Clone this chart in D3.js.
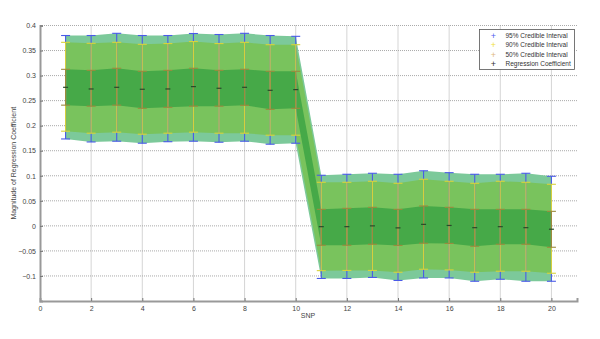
<!DOCTYPE html>
<meta charset="utf-8">
<style>
body { margin: 0; background: #fff; }
text { font-family: "Liberation Sans", Arial, sans-serif; font-size: 7px; }
</style>
<svg width="600" height="339"></svg>
<script src="https://d3js.org/d3.v7.min.js"></script>
<script>

var snp = d3.range(1, 21);

var coef = [0.2766, 0.2733, 0.2766, 0.2727, 0.2733, 0.278, 0.2747, 0.2766, 0.2706, 0.272,
  -0.0016, -0.0016, 0.0, -0.004, 0.003, 0.0008, -0.0036, -0.0016, -0.0036, -0.0067];
var lo50 = [0.241, 0.239, 0.241, 0.2347, 0.2367, 0.239, 0.239, 0.2407, 0.2327, 0.2347,
  -0.0387, -0.0387, -0.0367, -0.039, -0.0347, -0.035, -0.0407, -0.0367, -0.0367, -0.0427];
var hi50 = [0.3125, 0.3105, 0.3146, 0.3086, 0.3105, 0.3146, 0.3105, 0.3126, 0.3086, 0.3086,
  0.033, 0.035, 0.037, 0.033, 0.0397, 0.037, 0.033, 0.033, 0.033, 0.029];
var lo90 = [0.189, 0.185, 0.187, 0.183, 0.185, 0.187, 0.185, 0.185, 0.181, 0.181,
  -0.0894, -0.089, -0.089, -0.0926, -0.0866, -0.088, -0.0926, -0.0906, -0.0906, -0.0946];
var hi90 = [0.3664, 0.3644, 0.3664, 0.3624, 0.364, 0.368, 0.364, 0.3664, 0.3617, 0.3617,
  0.087, 0.087, 0.089, 0.085, 0.093, 0.089, 0.085, 0.089, 0.087, 0.083];
var lo95 = [0.1735, 0.1675, 0.169, 0.165, 0.168, 0.169, 0.167, 0.169, 0.163, 0.165,
  -0.105, -0.105, -0.103, -0.109, -0.104, -0.104, -0.1106, -0.1066, -0.1106, -0.1106];
var hi95 = [0.380, 0.380, 0.3844, 0.380, 0.380, 0.384, 0.382, 0.3844, 0.380, 0.3784,
  0.101, 0.103, 0.105, 0.103, 0.110, 0.1062, 0.103, 0.103, 0.105, 0.099];

var xTicks = d3.range(0, 21, 2);
var yTicks = [-0.1, -0.05, 0, 0.05, 0.1, 0.15, 0.2, 0.25, 0.3, 0.35, 0.4];
var legendLabels = ["95% Credible Interval", "90% Credible Interval", "50% Credible Interval", "Regression Coefficient"];
var legendColors = ["#5060f0", "#f0e040", "#e0b880", "#333"];

var svg = d3.select("svg");
var pLeft = 40, pRight = 577, pTop = 25.5, pBottom = 301;

var x = d3.scaleLinear().domain([0, 21]).range([pLeft, pRight]);
var y = d3.scaleLinear().domain([-0.15, 0.4]).range([pBottom, pTop]);

// grid
var grid = svg.append("g");
grid.selectAll(".gx").data(xTicks.filter(d => d > 0)).enter().append("line")
  .attr("x1", d => x(d)).attr("x2", d => x(d)).attr("y1", pTop).attr("y2", pBottom)
  .attr("stroke", "#aaa").attr("stroke-dasharray", "1,1");
grid.selectAll(".gy").data(yTicks).enter().append("line")
  .attr("x1", pLeft).attr("x2", pRight).attr("y1", d => y(d)).attr("y2", d => y(d))
  .attr("stroke", "#aaa").attr("stroke-dasharray", "1,1");

// bands
function band(lo, hi) {
  return d3.area().x((d, i) => x(snp[i])).y0((d, i) => y(lo[i])).y1((d, i) => y(hi[i]))(snp);
}
svg.append("path").attr("d", band(lo95, hi95)).attr("fill", "#7cc99a");
svg.append("path").attr("d", band(lo90, hi90)).attr("fill", "#79c35d");
svg.append("path").attr("d", band(lo50, hi50)).attr("fill", "#46a948");

// error bars
function errbars(lo, hi, color, w) {
  var g = svg.append("g").attr("stroke", color).attr("stroke-width", 1.1);
  g.selectAll(".v").data(snp).enter().append("line")
    .attr("x1", d => x(d)).attr("x2", d => x(d))
    .attr("y1", (d, i) => y(lo[i])).attr("y2", (d, i) => y(hi[i]));
  [lo, hi].forEach(function(arr) {
    g.selectAll(".c").data(snp).enter().append("line")
      .attr("x1", d => x(d) - w).attr("x2", d => x(d) + w)
      .attr("y1", (d, i) => y(arr[i])).attr("y2", (d, i) => y(arr[i]));
  });
}
errbars(lo95, hi95, "#4a5ae8", 4.5);
errbars(lo90, hi90, "#d8d23a", 4.5);
errbars(lo50, hi50, "#9c8a3e", 4.5);

svg.append("g").selectAll("line").data(snp).enter().append("line")
  .attr("x1", d => x(d) - 2.5).attr("x2", d => x(d) + 2.5)
  .attr("y1", (d, i) => y(coef[i])).attr("y2", (d, i) => y(coef[i]))
  .attr("stroke", "#2a4a2a").attr("stroke-width", 1.2);

// axes
var xAxis = svg.append("g").attr("transform", "translate(0," + pBottom + ")")
  .call(d3.axisBottom(x).tickValues(xTicks).tickSize(-3).tickPadding(5).tickFormat(d3.format("d")));
var yAxis = svg.append("g").attr("transform", "translate(" + pLeft + ",0)")
  .call(d3.axisLeft(y).tickValues(yTicks).tickSize(-3).tickPadding(4).tickFormat(d => d === 0 ? "0" : d3.format("")(d)));
[xAxis, yAxis].forEach(function(a) {
  a.select(".domain").attr("stroke", "#999").attr("stroke-width", 2);
  a.selectAll(".tick line").attr("stroke", "#777");
  a.selectAll("text").style("fill", "#444").style("font-size", "7px").style("font-family", "Liberation Sans, Arial, sans-serif");
});

svg.append("text").attr("x", 308).attr("y", 318).attr("text-anchor", "middle").style("fill", "#444").text("SNP");
svg.append("text").attr("transform", "translate(16," + ((pTop + pBottom) / 2) + ") rotate(-90)")
  .attr("text-anchor", "middle").style("fill", "#444").text("Magnitude of Regression Coefficient");

// legend
var lg = svg.append("g").attr("transform", "translate(479.5,29.5)");
lg.append("rect").attr("width", 95).attr("height", 40).attr("fill", "#fff").attr("stroke", "#555").attr("stroke-width", 0.8);
var row = lg.selectAll(".row").data(legendLabels).enter().append("g")
  .attr("transform", (d, i) => "translate(0," + (6 + i * 9.5) + ")");
row.append("text").attr("x", 14).attr("y", 0).attr("text-anchor", "middle").attr("dy", "0.35em")
  .style("font-size", "9px").style("fill", (d, i) => legendColors[i]).text("+");
row.append("text").attr("x", 26).attr("y", 0).attr("dy", "0.35em").style("font-size", "6.5px").style("fill", "#333").text(d => d);

</script>
